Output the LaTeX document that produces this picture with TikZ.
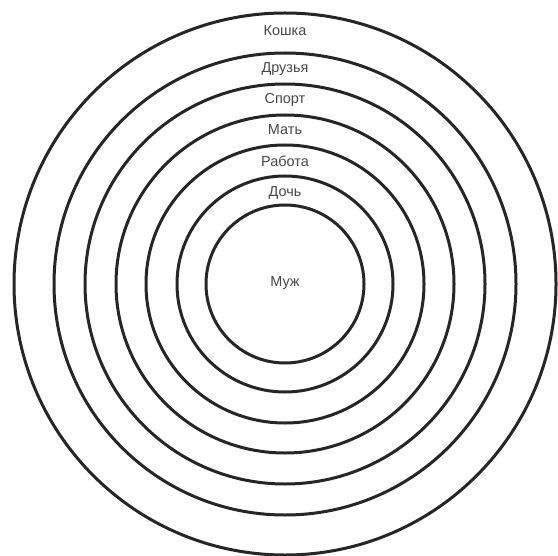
\documentclass[tikz,border=0pt]{standalone}
\usepackage{fontspec}
\setmainfont{Liberation Sans}
\begin{document}
\begin{tikzpicture}[x=1bp,y=-1bp,
  ring/.style={draw=black!85,line width=3bp},
  lbl/.style={font=\fontsize{14.5}{15}\selectfont,text=black!72,inner sep=0pt}]
\useasboundingbox[fill=white] (0,0) rectangle (558,556);
\coordinate (c) at (285,284);
\draw[ring] (c) circle[radius=79];
\draw[ring] (c) circle[radius=108];
\draw[ring] (c) circle[radius=139];
\draw[ring] (c) circle[radius=169];
\draw[ring] (c) circle[radius=200];
\draw[ring] (c) circle[radius=231];
\draw[ring] (c) circle[radius=271];
\node[lbl] (muzh) at (285,283) {Муж};
\node[lbl] (doch) at (285,193) {Дочь};
\node[lbl] (rabota) at (285,161) {Работа};
\node[lbl] (mat) at (285,130) {Мать};
\node[lbl] (sport) at (285,100) {Спорт};
\node[lbl] (druzya) at (285,69) {Друзья};
\node[lbl] (koshka) at (285,31) {Кошка};
\end{tikzpicture}
\end{document}
